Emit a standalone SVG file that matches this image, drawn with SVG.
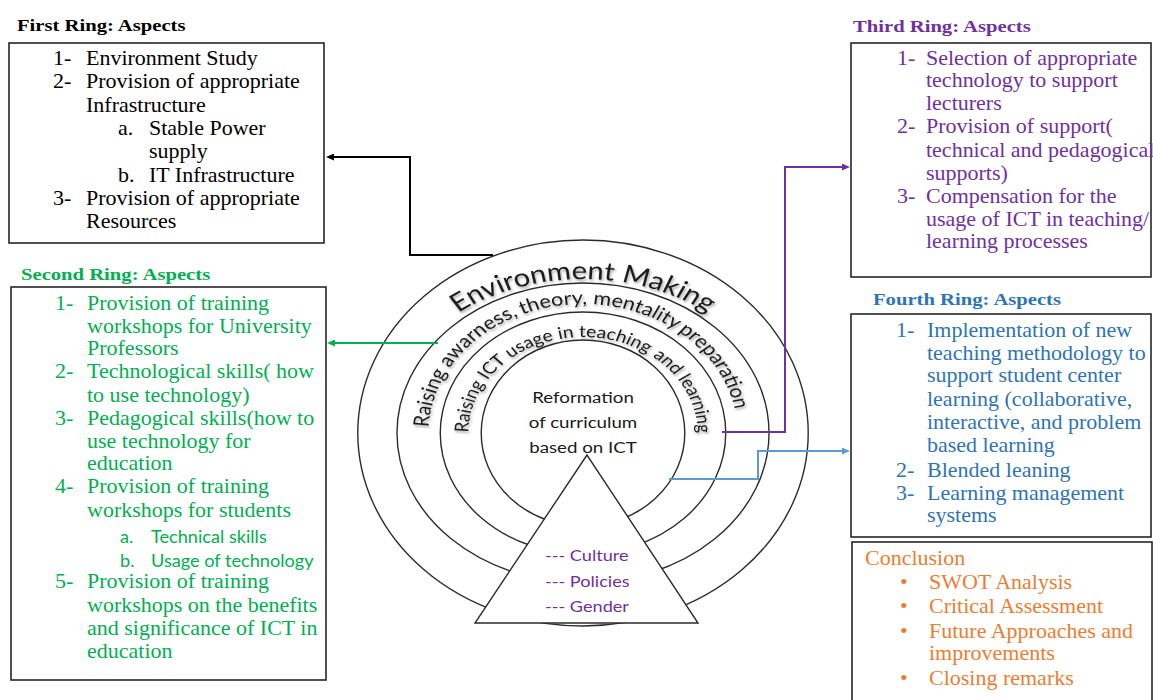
<svg xmlns="http://www.w3.org/2000/svg" width="1153" height="700" viewBox="0 0 1153 700">
<defs>
<style>
.box{fill:none;stroke:#262626;stroke-width:1.6}
.sv{font-family:"Liberation Serif","Times New Roman",serif;font-size:20px}
.tt{font-family:"Liberation Serif","Times New Roman",serif;font-size:17.5px;font-weight:bold}
.ss{font-family:Lato,"Open Sans","Liberation Sans",sans-serif;font-size:16.5px}
.ring{fill:none;stroke:#2b2b2b;stroke-width:1.4;vector-effect:non-scaling-stroke}
.ct{font-family:Lato,"Open Sans","Liberation Sans",sans-serif;fill:#1a1a1a;filter:url(#sh)}
.cc{font-family:Lato,"Open Sans","Liberation Sans",sans-serif;font-size:16px;fill:#1a1a1a;text-anchor:middle}
.tl{font-family:Lato,"Open Sans","Liberation Sans",sans-serif;font-size:15.5px;fill:#7030A0}
.k{fill:#000}.g{fill:#00B050}.p{fill:#7030A0}.b{fill:#2E74B5}.o{fill:#ED7D31}
.con{fill:none;stroke-width:2}
</style>
<filter id="sh" x="-10%" y="-20%" width="120%" height="140%">
<feDropShadow dx="1" dy="2" stdDeviation="1.2" flood-color="#000" flood-opacity="0.35"/>
</filter>
<marker id="ak" viewBox="0 0 8 7" refX="2" refY="3.5" markerWidth="8" markerHeight="7" markerUnits="userSpaceOnUse" orient="auto"><path d="M0,0 L8,3.5 L0,7 z" fill="#000"/></marker>
<marker id="ag" viewBox="0 0 8 7" refX="2" refY="3.5" markerWidth="8" markerHeight="7" markerUnits="userSpaceOnUse" orient="auto"><path d="M0,0 L8,3.5 L0,7 z" fill="#00B050"/></marker>
<marker id="ap" viewBox="0 0 8 7" refX="2" refY="3.5" markerWidth="8" markerHeight="7" markerUnits="userSpaceOnUse" orient="auto"><path d="M0,0 L8,3.5 L0,7 z" fill="#7030A0"/></marker>
<marker id="ab" viewBox="0 0 8 7" refX="2" refY="3.5" markerWidth="8" markerHeight="7" markerUnits="userSpaceOnUse" orient="auto"><path d="M0,0 L8,3.5 L0,7 z" fill="#5B9BD5"/></marker>
<path id="pE" d="M-159.75,52.67 A170,154 0 1 1 159.75,52.67"/>
<path id="pR" d="M-124.04,44.12 A132,129 0 1 1 124.04,44.12"/>
<path id="pI" d="M-92.09,32.83 A98,96 0 1 1 92.09,32.83"/>
</defs>
<rect width="1153" height="700" fill="#fff"/>

<g id="rings" transform="translate(583,433) scale(1.17,1)">
<ellipse class="ring" rx="192.5" ry="193"/>
<ellipse class="ring" rx="159" ry="150"/>
<ellipse class="ring" rx="122" ry="121"/>
<ellipse class="ring" rx="87" ry="93"/>
<text class="ct" font-size="25"><textPath href="#pE" startOffset="50%" text-anchor="middle">Environment Making</textPath></text>
<text class="ct" font-size="18.5"><textPath href="#pR" startOffset="193" text-anchor="end">Raising awarness,</textPath></text>
<text class="ct" font-size="18.5"><textPath href="#pR" startOffset="196.5">theory, mentality</textPath></text>
<text class="ct" font-size="18.5"><textPath href="#pR" startOffset="337">preparation</textPath></text>
<text class="ct" font-size="16.5"><textPath href="#pI" startOffset="34">Raising ICT</textPath></text>
<text class="ct" font-size="16.5"><textPath href="#pI" startOffset="181.5" text-anchor="middle">usage in teaching</textPath></text>
<text class="ct" font-size="16.5"><textPath href="#pI" startOffset="338" text-anchor="end">and learning</textPath></text>
</g>

<g id="triangle" transform="translate(583,433) scale(1.17,1)">
<path d="M3.4,22 L-92.3,190 L98.3,190 Z" fill="#fff" stroke="#2b2b2b" stroke-width="1.4" vector-effect="non-scaling-stroke"/>
<text class="tl" x="-32.5" y="128">--- Culture</text>
<text class="tl" x="-32.5" y="154">--- Policies</text>
<text class="tl" x="-32.5" y="179">--- Gender</text>
</g>

<g id="core" transform="translate(583,433) scale(1.17,1)">
<text class="cc" x="0" y="-30">Reformation</text>
<text class="cc" x="0" y="-5">of curriculum</text>
<text class="cc" x="0" y="20">based on ICT</text>
</g>

<g id="first-ring">
<rect class="box" x="9" y="43" width="315" height="200"/>
<text class="tt k" transform="translate(17,31) scale(1.18,1)">First Ring: Aspects</text>
<g class="sv k" transform="translate(86,0) scale(1.1,1)">
<text x="-30" y="65">1-</text><text x="0" y="65">Environment Study</text>
<text x="-30" y="88">2-</text><text x="0" y="88">Provision of appropriate</text>
<text x="0" y="112">Infrastructure</text>
<text x="29" y="135">a.</text><text x="57.3" y="135">Stable Power</text>
<text x="57.3" y="158">supply</text>
<text x="29" y="182">b.</text><text x="57.3" y="182">IT Infrastructure</text>
<text x="-30" y="205">3-</text><text x="0" y="205">Provision of appropriate</text>
<text x="0" y="228">Resources</text>
</g>
</g>

<g id="second-ring">
<rect class="box" x="11" y="287" width="315" height="393"/>
<text class="tt g" transform="translate(21,280) scale(1.18,1)">Second Ring: Aspects</text>
<g class="sv g" transform="translate(87,0) scale(1.1,1)">
<text x="-29" y="310">1-</text><text x="0" y="310">Provision of training</text>
<text x="0" y="333">workshops for University</text>
<text x="0" y="355">Professors</text>
<text x="-29" y="378">2-</text><text x="0" y="378">Technological skills( how</text>
<text x="0" y="402">to use technology)</text>
<text x="-29" y="425">3-</text><text x="0" y="425">Pedagogical skills(how to</text>
<text x="0" y="448">use technology for</text>
<text x="0" y="470">education</text>
<text x="-29" y="493">4-</text><text x="0" y="493">Provision of training</text>
<text x="0" y="517">workshops for students</text>
<text class="ss" x="30" y="543">a.</text><text class="ss" x="58.2" y="543">Technical skills</text>
<text class="ss" x="30" y="567">b.</text><text class="ss" x="58.2" y="567">Usage of technology</text>
<text x="-29" y="588">5-</text><text x="0" y="588">Provision of training</text>
<text x="0" y="612">workshops on the benefits</text>
<text x="0" y="635">and significance of ICT in</text>
<text x="0" y="658">education</text>
</g>
</g>

<g id="third-ring">
<rect class="box" x="851" y="43" width="300" height="234"/>
<text class="tt p" transform="translate(853,32) scale(1.18,1)">Third Ring: Aspects</text>
<g class="sv p" transform="translate(926,0) scale(1.1,1)">
<text x="-26.4" y="65">1-</text><text x="0" y="65">Selection of appropriate</text>
<text x="0" y="87">technology to support</text>
<text x="0" y="110">lecturers</text>
<text x="-26.4" y="133">2-</text><text x="0" y="133">Provision of support(</text>
<text x="0" y="157">technical and pedagogical</text>
<text x="0" y="180">supports)</text>
<text x="-26.4" y="203">3-</text><text x="0" y="203">Compensation for the</text>
<text x="0" y="226">usage of ICT in teaching/</text>
<text x="0" y="248">learning processes</text>
</g>
</g>

<g id="fourth-ring">
<rect class="box" x="851" y="314" width="300" height="223"/>
<text class="tt b" transform="translate(873,305) scale(1.18,1)">Fourth Ring: Aspects</text>
<g class="sv b" transform="translate(927,0) scale(1.1,1)">
<text x="-28.2" y="337">1-</text><text x="0" y="337">Implementation of new</text>
<text x="0" y="360">teaching methodology to</text>
<text x="0" y="382">support student center</text>
<text x="0" y="406">learning (collaborative,</text>
<text x="0" y="429">interactive, and problem</text>
<text x="0" y="452">based learning</text>
<text x="-28.2" y="477">2-</text><text x="0" y="477">Blended leaning</text>
<text x="-28.2" y="500">3-</text><text x="0" y="500">Learning management</text>
<text x="0" y="522">systems</text>
</g>
</g>

<g id="conclusion">
<rect class="box" x="852" y="542" width="300" height="170"/>
<g class="sv o" transform="translate(929,0) scale(1.1,1)">
<text x="-58.2" y="565">Conclusion</text>
<text x="-26.4" y="589">•</text><text x="0" y="589">SWOT Analysis</text>
<text x="-26.4" y="613">•</text><text x="0" y="613">Critical Assessment</text>
<text x="-26.4" y="638">•</text><text x="0" y="638">Future Approaches and</text>
<text x="0" y="660">improvements</text>
<text x="-26.4" y="685">•</text><text x="0" y="685">Closing remarks</text>
</g>
</g>

<g id="connectors">
<path class="con" stroke="#000" d="M493,255 H410 V157 H332" marker-end="url(#ak)"/>
<path class="con" stroke="#00B050" d="M438,343 H333" marker-end="url(#ag)"/>
<path class="con" stroke="#7030A0" d="M722,432 H785 V167 H844" marker-end="url(#ap)"/>
<path class="con" stroke="#5B9BD5" d="M669,479 H758 V451 H844" marker-end="url(#ab)"/>
</g>
</svg>
